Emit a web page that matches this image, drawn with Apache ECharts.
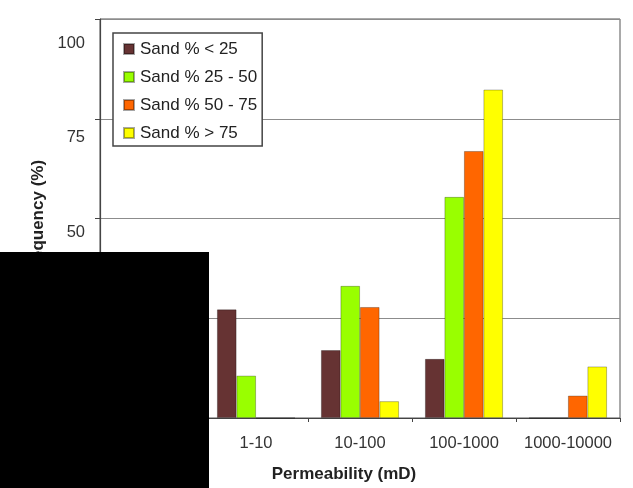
<!DOCTYPE html>
<html>
<head>
<meta charset="utf-8">
<title>Permeability distribution by sand content</title>
<script src="https://cdn.jsdelivr.net/npm/echarts@6/dist/echarts.min.js"></script>
<style>
  html, body { margin: 0; padding: 0; background: #ffffff; }
  #chart { width: 633px; height: 488px; }
</style>
</head>
<body>
<div id="chart"></div>
<script>
// Permeability classes (mD)
const categories = ['0.1-1', '1-10', '10-100', '100-1000', '1000-10000'];

// Frequency (%) of each permeability class, per sand-content group
const sandBelow25 = [41, 27.2, 17.0, 14.8, 0];
const sand25to50 = [0, 10.6, 33.1, 55.4, 0];
const sand50to75 = [0, 0, 27.8, 66.9, 5.6];
const sandAbove75 = [0, 0, 4.2, 82.3, 12.9];

const seriesNames = ['Sand % < 25', 'Sand % 25 - 50', 'Sand % 50 - 75', 'Sand % > 75'];
const seriesColors = ['#663333', '#99ff00', '#ff6600', '#ffff00'];
const seriesValues = [sandBelow25, sand25to50, sand50to75, sandAbove75];

// Frequency axis tick values
const yTicks = [0, 25, 50, 75, 100];

const FONT = '"Liberation Sans", Arial, Helvetica, sans-serif';

// per-tick vertical nudge of the frequency labels (px, downward)
const labelShift = { 0: 3, 25: 8, 50: 13.5, 75: 19, 100: 24 };
const labelRich = {};
yTicks.forEach(function (v) {
  labelRich['t' + v] = {
    fontFamily: FONT, fontSize: 16.5, color: '#333333',
    padding: [labelShift[v] * 2, 0, 0, 0]
  };
});

const chart = echarts.init(document.getElementById('chart'), null, { renderer: 'canvas' });

chart.setOption({
  animation: false,
  backgroundColor: '#ffffff',
  grid: {
    left: 100, right: 13, top: 19, bottom: 69,
    show: true, borderColor: '#555555', borderWidth: 1, backgroundColor: 'transparent'
  },
  legend: {
    orient: 'vertical',
    left: 113, top: 33,
    padding: [6, 5, 3, 10],
    itemGap: 8,
    itemWidth: 10, itemHeight: 10,
    icon: 'rect',
    backgroundColor: '#ffffff',
    borderColor: '#444444', borderWidth: 1.5,
    textStyle: { fontFamily: FONT, fontSize: 17, color: '#222222', lineHeight: 20, padding: [0, 0, 0, 1] },
    data: seriesNames
  },
  xAxis: {
    type: 'category',
    data: categories,
    name: 'Permeability (mD)',
    nameLocation: 'middle',
    nameGap: 48,
    nameTextStyle: { fontFamily: FONT, fontSize: 17, fontWeight: 'bold', color: '#222222', padding: [0, 32, 0, 0] },
    axisLine: { lineStyle: { color: '#444444', width: 1.2 } },
    axisTick: { show: true, length: 4, interval: 0, lineStyle: { color: '#444444' } },
    axisLabel: { fontFamily: FONT, fontSize: 16.5, color: '#333333', margin: 17, interval: 0 },
    splitLine: { show: false }
  },
  yAxis: {
    type: 'value',
    min: 0, max: 100, interval: 25,
    name: 'Frequency (%)',
    nameLocation: 'middle',
    nameGap: 50,
    nameTextStyle: { fontFamily: FONT, fontSize: 17, fontWeight: 'bold', color: '#222222' },
    axisLine: { show: true, lineStyle: { color: '#444444', width: 1.2 } },
    axisTick: { show: true, length: 5, lineStyle: { color: '#444444' } },
    axisLabel: {
      margin: 15,
      formatter: function (v) { return '{t' + v + '|' + v + '}'; },
      rich: labelRich
    },
    splitLine: { show: true, lineStyle: { color: '#8c8c8c', width: 1 } }
  },
  series: seriesNames.map(function (name, i) {
    return {
      name: name,
      type: 'bar',
      data: seriesValues[i],
      barGap: '0%',
      barCategoryGap: '25%',
      itemStyle: { color: seriesColors[i], borderColor: 'rgba(0,0,0,0.35)', borderWidth: 0.8 }
    };
  }),
  graphic: [{
    type: 'rect',
    z: 100,
    shape: { x: 0, y: 252, width: 209, height: 236 },
    style: { fill: '#000000' }
  }]
});
</script>
</body>
</html>
